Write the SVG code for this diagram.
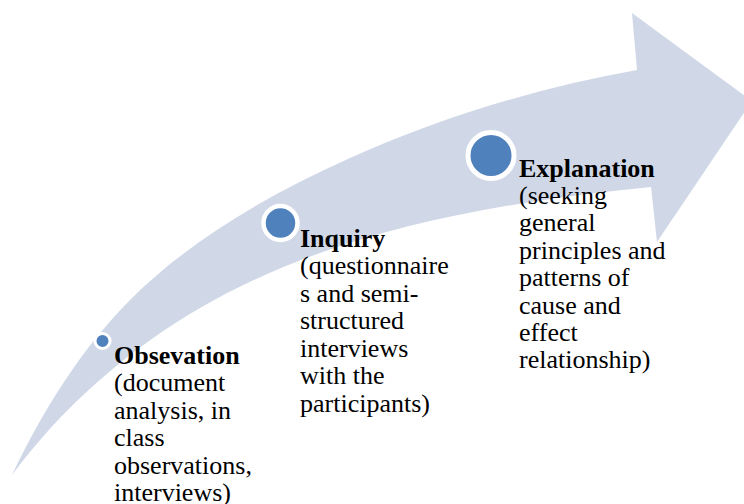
<svg xmlns="http://www.w3.org/2000/svg" width="744" height="504" viewBox="0 0 744 504">
  <style>
    .band { fill: #D0D8E8; stroke: none; }
    .dot { fill: #4F81BD; stroke: #FFFFFF; }
    text, tspan { font-family: 'Liberation Serif', 'DejaVu Serif', serif; font-size: 26px; fill: #000000; font-weight: normal; }
    tspan.h { font-weight: bold; }
  </style>
  <rect x="0" y="0" width="744" height="504" fill="#FFFFFF"/>
  <g id="connectors">
    <path id="arrow" class="band" d="M12,475 C42,412 80.5,349.5 130,300 C191.5,238.5 270.7,193.7 350,158 C441,117 538.6,87.7 637,70 L632,13 L752,101 L657,242 L651,187 C496,202.5 335,229.7 200,308 C127.3,350.2 62,407.5 12,475 Z"/>
  </g>
  <g id="observation">
    <circle class="dot" cx="102.5" cy="341" r="7.5" stroke-width="3"/>
    <text x="114" y="364" font-family="Liberation Serif, serif">
      <tspan class="h" x="114">Obsevation</tspan>
      <tspan x="114" dy="27.4" font-family="Liberation Serif, serif">(document</tspan>
      <tspan x="114" dy="27.4" font-family="Liberation Serif, serif">analysis, in</tspan>
      <tspan x="114" dy="27.4" font-family="Liberation Serif, serif">class</tspan>
      <tspan x="114" dy="27.4" font-family="Liberation Serif, serif">observations,</tspan>
      <tspan x="114" dy="27.4" font-family="Liberation Serif, serif">interviews)</tspan>
    </text>
  </g>
  <g id="inquiry">
    <circle class="dot" cx="280.5" cy="223" r="17" stroke-width="4.5"/>
    <text x="300" y="246.5" font-family="Liberation Serif, serif">
      <tspan class="h" x="300">Inquiry</tspan>
      <tspan x="300" dy="27.5" font-family="Liberation Serif, serif">(questionnaire</tspan>
      <tspan x="300" dy="27.5" font-family="Liberation Serif, serif">s and semi-</tspan>
      <tspan x="300" dy="27.5" font-family="Liberation Serif, serif">structured</tspan>
      <tspan x="300" dy="27.5" font-family="Liberation Serif, serif">interviews</tspan>
      <tspan x="300" dy="27.5" font-family="Liberation Serif, serif">with the</tspan>
      <tspan x="300" dy="27.5" font-family="Liberation Serif, serif">participants)</tspan>
    </text>
  </g>
  <g id="explanation">
    <circle class="dot" cx="491" cy="155.5" r="23" stroke-width="5"/>
    <text x="519" y="176.5" font-family="Liberation Serif, serif">
      <tspan class="h" x="519">Explanation</tspan>
      <tspan x="519" dy="27.4" font-family="Liberation Serif, serif">(seeking</tspan>
      <tspan x="519" dy="27.4" font-family="Liberation Serif, serif">general</tspan>
      <tspan x="519" dy="27.4" font-family="Liberation Serif, serif">principles and</tspan>
      <tspan x="519" dy="27.4" font-family="Liberation Serif, serif">patterns of</tspan>
      <tspan x="519" dy="27.4" font-family="Liberation Serif, serif">cause and</tspan>
      <tspan x="519" dy="27.4" font-family="Liberation Serif, serif">effect</tspan>
      <tspan x="519" dy="27.4" font-family="Liberation Serif, serif">relationship)</tspan>
    </text>
  </g>
</svg>
